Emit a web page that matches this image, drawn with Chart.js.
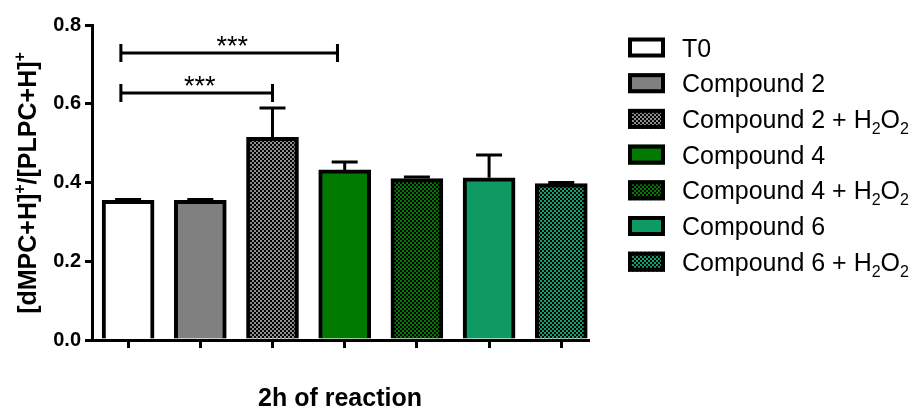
<!DOCTYPE html>
<html lang="en">
<head>
<meta charset="UTF-8">
<title>2h of reaction</title>
<script src="https://cdn.jsdelivr.net/npm/chart.js"></script>
<style>
  html, body { margin: 0; padding: 0; background: #fff; }
  #wrap { width: 918px; height: 408px; }
</style>
</head>
<body>
<div id="wrap"><canvas id="myChart"></canvas></div>
<script>
// data
const categories = ['T0', 'Compound 2', 'Compound 2 + H_2O_2', 'Compound 4',
                    'Compound 4 + H_2O_2', 'Compound 6', 'Compound 6 + H_2O_2'];
const means  = [0.355, 0.355, 0.515, 0.432, 0.410, 0.412, 0.397];
const errors = [0.002, 0.002, 0.074, 0.020, 0.004, 0.058, 0.003];
const yTicks = [0, 0.2, 0.4, 0.6, 0.8];

// significance brackets (x in category units)
const sigFrom  = [-0.1, -0.1];
const sigTo    = [2.0, 2.9];
const sigY     = [0.627, 0.729];
const sigLabel = ['***', '***'];

const FONT = "'Liberation Sans', Arial, sans-serif";

function checker(color) {
  const c = document.createElement('canvas');
  c.width = c.height = 4;
  const g = c.getContext('2d');
  g.fillStyle = '#000';
  g.fillRect(0, 0, 4, 4);
  g.fillStyle = color;
  g.fillRect(0, 0, 2, 2);
  g.fillRect(2, 2, 2, 2);
  return g.createPattern(c, 'repeat');
}

const fills = ['#ffffff', '#808080', checker('#8f8f8f'), '#007a00',
               checker('#007a00'), '#0f9a64', checker('#12a070')];

// text with "_2" style subscripts / "^+" superscripts
function drawRich(ctx, x, y, parts, size, bold) {
  const w = bold ? 'bold ' : '';
  parts.forEach(p => {
    const s = p.small ? Math.round(size * 0.64) : size;
    ctx.font = w + s + 'px ' + FONT;
    ctx.fillText(p.t, x, y + (p.dy || 0));
    x += ctx.measureText(p.t).width;
  });
}
function richWidth(ctx, parts, size, bold) {
  const w = bold ? 'bold ' : '';
  let total = 0;
  parts.forEach(p => {
    const s = p.small ? Math.round(size * 0.64) : size;
    ctx.font = w + s + 'px ' + FONT;
    total += ctx.measureText(p.t).width;
  });
  return total;
}
function subParts(label) {
  return label.split(/_(\d)/).map((t, i) => i % 2 ? { t, small: true, dy: 6 } : { t });
}

const extras = {
  id: 'extras',
  afterDatasetsDraw(chart) {
    const { ctx, scales: { x, y } } = chart;
    ctx.save();
    ctx.strokeStyle = '#000';
    ctx.fillStyle = '#000';
    ctx.lineWidth = 3;

    // error bars (upper only)
    means.forEach((m, i) => {
      const px = x.getPixelForValue(i);
      const base = y.getPixelForValue(m);
      const top = y.getPixelForValue(m + errors[i]);
      ctx.beginPath();
      ctx.moveTo(px, base); ctx.lineTo(px, top);
      ctx.moveTo(px - 13, top); ctx.lineTo(px + 13, top);
      ctx.stroke();
    });

    // significance brackets
    ctx.textAlign = 'center';
    ctx.textBaseline = 'alphabetic';
    sigY.forEach((v, i) => {
      const x1 = x.getPixelForValue(sigFrom[i]);
      const x2 = x.getPixelForValue(sigTo[i]);
      const py = y.getPixelForValue(v);
      ctx.beginPath();
      ctx.moveTo(x1, py); ctx.lineTo(x2, py);
      ctx.moveTo(x1, py - 9); ctx.lineTo(x1, py + 9);
      ctx.moveTo(x2, py - 9); ctx.lineTo(x2, py + 9);
      ctx.stroke();
      ctx.font = '27px ' + FONT;
      ctx.fillText(sigLabel[i], (x1 + x2) / 2 + 3, py + 2);
    });

    // legend
    ctx.textAlign = 'left';
    categories.forEach((c, i) => {
      const cy = 47.5 + 35.7 * i;
      ctx.fillStyle = fills[i];
      ctx.fillRect(628, cy - 10, 37, 20);
      ctx.lineWidth = 4;
      ctx.strokeRect(630, cy - 8, 33, 16);
      ctx.fillStyle = '#000';
      drawRich(ctx, 682, cy + 9, subParts(c), 25, false);
    });

    // axis titles
    ctx.textAlign = 'center';
    ctx.font = 'bold 25px ' + FONT;
    ctx.fillText('2h of reaction', 340, 406);

    const yt = [{ t: '[dMPC+H]' }, { t: '+', small: true, dy: -11 },
                { t: '/[PLPC+H]' }, { t: '+', small: true, dy: -11 }];
    ctx.translate(36, 183);
    ctx.rotate(-Math.PI / 2);
    ctx.textAlign = 'left';
    const tw = richWidth(ctx, yt, 25, true);
    drawRich(ctx, -tw / 2, 0, yt, 25, true);
    ctx.restore();
  }
};

const ctx = document.getElementById('myChart').getContext('2d');
new Chart(ctx, {
  type: 'bar',
  data: {
    datasets: [{
      data: means.map((v, i) => ({ x: i, y: v })),
      backgroundColor: fills,
      borderColor: '#000',
      borderWidth: 4,
      borderSkipped: 'start',
      barThickness: 52
    }]
  },
  options: {
    responsive: true,
    maintainAspectRatio: false,
    animation: false,
    layout: { padding: { left: 0, right: 330, top: 25, bottom: 0 } },
    plugins: { legend: { display: false }, tooltip: { enabled: false } },
    scales: {
      x: {
        type: 'linear',
        offset: false,
        min: -0.5,
        max: 6.37,
        afterBuildTicks: s => { s.ticks = categories.map((c, i) => ({ value: i })); },
        afterFit: s => { s.height = 68; },
        ticks: { display: false },
        grid: { offset: false, drawOnChartArea: false, drawTicks: true, tickLength: 8, lineWidth: 3, color: '#000' },
        border: { display: true, width: 3, color: '#000' }
      },
      y: {
        min: 0,
        max: 0.8,
        afterBuildTicks: s => { s.ticks = yTicks.map(v => ({ value: v })); },
        afterFit: s => { s.width = 92; },
        ticks: {
          padding: 4,
          color: '#000',
          font: { family: FONT, size: 20, weight: 'bold' },
          callback: v => v.toFixed(1)
        },
        grid: { drawOnChartArea: false, drawTicks: true, tickLength: 7, lineWidth: 3, color: '#000' },
        border: { display: true, width: 3, color: '#000' }
      }
    }
  },
  plugins: [extras]
});
</script>
</body>
</html>
